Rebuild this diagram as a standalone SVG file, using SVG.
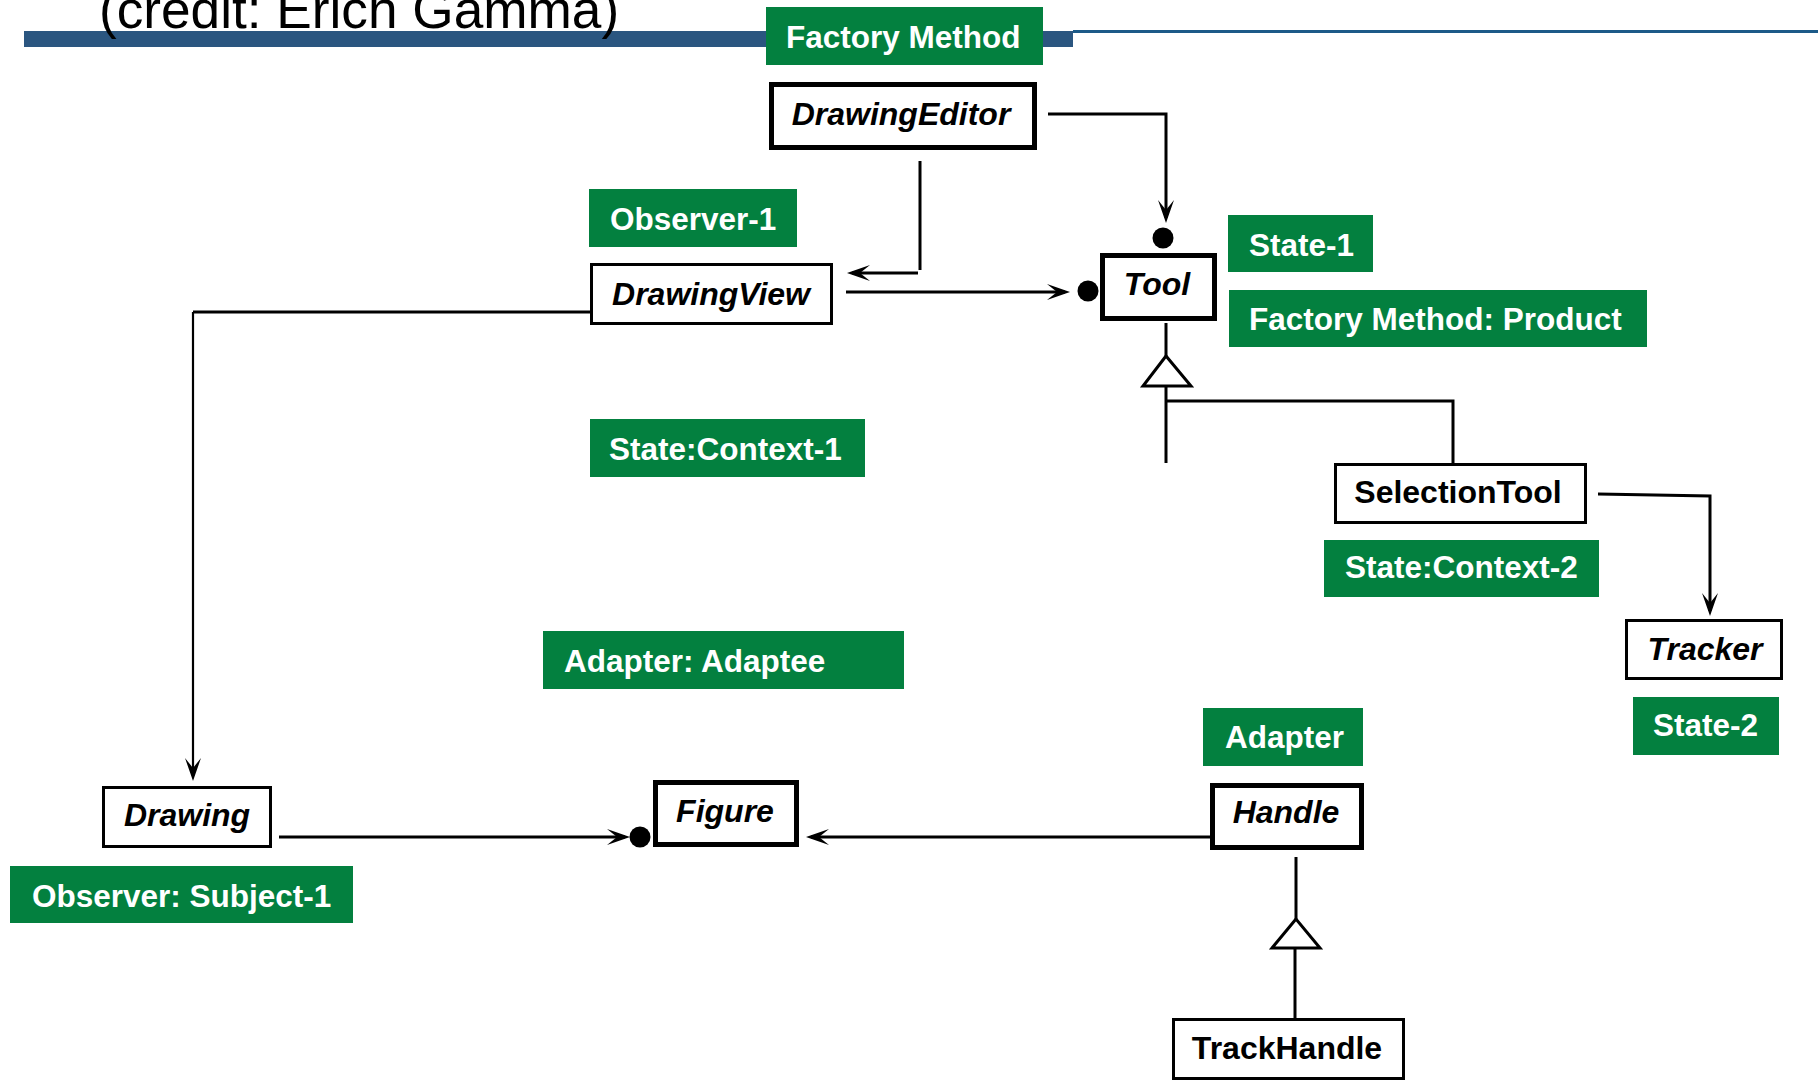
<svg xmlns="http://www.w3.org/2000/svg" width="1818" height="1081" viewBox="0 0 1818 1081">
<style>
  text { font-family: "Liberation Sans", Arial, sans-serif; font-weight: bold; }
  .lbl rect { fill: #03803f; }
  .lbl text { fill: #ffffff; font-size: 31.5px; }
  .box { fill: #ffffff; stroke: #000000; stroke-width: 3; }
  .thick { stroke-width: 5; }
  .nt { font-size: 32px; fill: #000000; text-anchor: middle; }
  .it { font-style: italic; }
  .ln { fill: none; stroke: #000000; stroke-width: 3; }
  .arr { marker-end: url(#arrow); }
  .tri { fill: #ffffff; stroke: #000000; stroke-width: 3; stroke-linejoin: miter; }
</style>
<defs>
  <marker id="arrow" viewBox="-25 -10 32 20" markerWidth="32" markerHeight="20" refX="-5" refY="0" orient="auto" markerUnits="userSpaceOnUse">
    <path d="M0,0 L-23,-8 L-13,0 L-23,8 Z" fill="#000000"/>
  </marker>
</defs>
<rect width="1818" height="1081" fill="#ffffff"/>

<!-- header bar and title -->
<g id="header">
  <rect x="24" y="31" width="1049" height="16" fill="#2b5680"/>
  <rect x="1073" y="30" width="745" height="3" fill="#1c5a88"/>
  <text x="99" y="28" style="font-weight:normal;font-size:53.2px" fill="#000000">(credit: Erich Gamma)</text>
</g>

<!-- connectors -->
<g id="connectors">
  <!-- DrawingEditor -> Tool -->
  <path class="ln arr" d="M1048,114 H1166 V218"/>
  <circle cx="1163" cy="238" r="10.5" fill="#000"/>
  <!-- DrawingEditor -> DrawingView -->
  <path class="ln" d="M920,161 V270"/>
  <path class="ln arr" d="M918,273 H852"/>
  <!-- DrawingView -> Tool -->
  <path class="ln arr" d="M846,292 H1065"/>
  <circle cx="1088" cy="291" r="10.5" fill="#000"/>
  <!-- DrawingView -> Drawing -->
  <path class="ln" d="M591,312 H193"/>
  <path class="ln arr" style="stroke-width:2.2" d="M193,312 V776"/>
  <!-- Drawing -> Figure -->
  <path class="ln arr" d="M279,837 H625"/>
  <circle cx="640" cy="837" r="10.5" fill="#000"/>
  <!-- Handle -> Figure -->
  <path class="ln arr" d="M1210,837 H811"/>
  <!-- Tool generalization -->
  <path class="ln" d="M1166,323 V356"/>
  <polygon class="tri" points="1166,356 1143,386 1191,386"/>
  <path class="ln" d="M1166,386 V463"/>
  <path class="ln" d="M1166,401 H1453 V463"/>
  <!-- SelectionTool -> Tracker -->
  <path class="ln arr" d="M1598,494 L1710,496 V611"/>
  <!-- Handle generalization -->
  <path class="ln" d="M1296,857 V919"/>
  <polygon class="tri" points="1296,919 1272,948 1320,948"/>
  <path class="ln" d="M1295,948 V1018"/>
</g>

<!-- pattern labels -->
<g id="label-factory-method" class="lbl"><rect x="766" y="7" width="277" height="58"/><text x="786" y="48">Factory Method</text></g>
<g id="label-observer-1" class="lbl"><rect x="589" y="189" width="208" height="58"/><text x="610" y="230">Observer-1</text></g>
<g id="label-state-1" class="lbl"><rect x="1228" y="215" width="145" height="57"/><text x="1249" y="256">State-1</text></g>
<g id="label-fm-product" class="lbl"><rect x="1229" y="290" width="418" height="57"/><text x="1249" y="330">Factory Method: Product</text></g>
<g id="label-state-context-1" class="lbl"><rect x="590" y="419" width="275" height="58"/><text x="609" y="460">State:Context-1</text></g>
<g id="label-state-context-2" class="lbl"><rect x="1324" y="540" width="275" height="57"/><text x="1345" y="578">State:Context-2</text></g>
<g id="label-adapter-adaptee" class="lbl"><rect x="543" y="631" width="361" height="58"/><text x="564" y="672">Adapter: Adaptee</text></g>
<g id="label-adapter" class="lbl"><rect x="1203" y="708" width="160" height="58"/><text x="1225" y="748">Adapter</text></g>
<g id="label-state-2" class="lbl"><rect x="1633" y="697" width="146" height="58"/><text x="1653" y="736">State-2</text></g>
<g id="label-observer-subject-1" class="lbl"><rect x="10" y="866" width="343" height="57"/><text x="32" y="907">Observer: Subject-1</text></g>

<!-- class nodes -->
<g id="node-drawingeditor"><rect class="box thick" x="771.5" y="84.5" width="263" height="63"/><text class="nt it" x="901" y="125">DrawingEditor</text></g>
<g id="node-drawingview"><rect class="box" x="591.5" y="264.5" width="240" height="59"/><text class="nt it" x="711" y="305">DrawingView</text></g>
<g id="node-tool"><rect class="box thick" x="1102.5" y="255.5" width="112" height="63"/><text class="nt it" x="1157" y="295">Tool</text></g>
<g id="node-selectiontool"><rect class="box" x="1335.5" y="464.5" width="250" height="58"/><text class="nt" x="1458" y="503">SelectionTool</text></g>
<g id="node-tracker"><rect class="box" x="1626.5" y="620.5" width="155" height="58"/><text class="nt it" x="1705" y="660">Tracker</text></g>
<g id="node-drawing"><rect class="box" x="103.5" y="787.5" width="167" height="59"/><text class="nt it" x="187" y="826">Drawing</text></g>
<g id="node-figure"><rect class="box thick" x="655.5" y="782.5" width="141" height="62"/><text class="nt it" x="725" y="822">Figure</text></g>
<g id="node-handle"><rect class="box thick" x="1212.5" y="785.5" width="149" height="62"/><text class="nt it" x="1286" y="823">Handle</text></g>
<g id="node-trackhandle"><rect class="box" x="1173.5" y="1019.5" width="230" height="59"/><text class="nt" x="1287" y="1059">TrackHandle</text></g>
</svg>
